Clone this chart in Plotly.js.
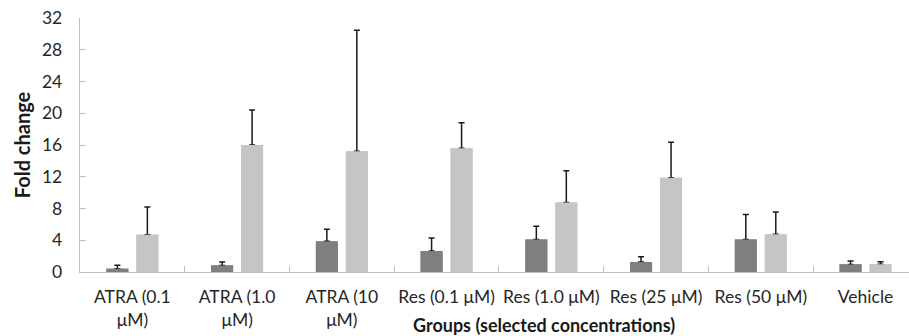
<!DOCTYPE html>
<html>
<head>
<meta charset="utf-8">
<script src="https://cdn.plot.ly/plotly-3.0.1.min.js"></script>
<style>html,body{margin:0;padding:0;background:#fff;}#chart{width:909px;height:336px;}</style>
</head>
<body>
<div id="chart"></div>
<script>
const categories = ["ATRA (0.1<br>μM)", "ATRA (1.0<br>μM)", "ATRA (10<br>μM)", "Res (0.1 μM)", "Res (1.0 μM)", "Res (25 μM)", "Res (50 μM)", "Vehicle"];
const darkValues = [0.42, 0.83, 3.86, 2.64, 4.1, 1.25, 4.1, 0.96];
const darkErrors = [0.42, 0.42, 1.52, 1.64, 1.66, 0.68, 3.13, 0.42];
const lightValues = [4.7, 16.0, 15.2, 15.6, 8.75, 11.86, 4.75, 0.98];
const lightErrors = [3.5, 4.4, 15.25, 3.2, 4.0, 4.5, 2.81, 0.32];
const yTicks = [0, 4, 8, 12, 16, 20, 24, 28, 32];

const darkColor = '#7f7f7f';
const lightColor = '#c4c6c5';
const zeros = categories.map(() => 0);

function errBar(arr) {
  return {type: 'data', array: arr, arrayminus: zeros, symmetric: false, visible: true,
          color: '#1a1a1a', thickness: 1.5, width: 3};
}

const traces = [
  {type: 'bar', x: categories, y: darkValues, offsetgroup: 'a', marker: {color: darkColor}, error_y: errBar(darkErrors), hoverinfo: 'skip'},
  {type: 'bar', x: categories, y: lightValues, offsetgroup: 'b', marker: {color: lightColor}, error_y: errBar(lightErrors), hoverinfo: 'skip'},
  {type: 'bar', x: categories, y: darkValues, offsetgroup: 'a', marker: {color: darkColor}, hoverinfo: 'skip'},
  {type: 'bar', x: categories, y: lightValues, offsetgroup: 'b', marker: {color: lightColor}, hoverinfo: 'skip'}
];

const fontFam = 'Lato, "Open Sans", sans-serif';

const layout = {
  width: 909, height: 336,
  margin: {l: 79.5, r: 0, t: 18.3, b: 64.4, pad: 0},
  paper_bgcolor: '#ffffff', plot_bgcolor: '#ffffff',
  showlegend: false,
  barmode: 'group', bargap: 0.4275, bargroupgap: 0.267,
  font: {family: fontFam, size: 17, color: '#262626'},
  xaxis: {
    type: 'category', range: [-0.5, 7.415],
    showline: true, linecolor: '#bfbfbf', linewidth: 1.3,
    ticks: 'inside', tickson: 'boundaries', ticklen: 6, tickcolor: '#bfbfbf', tickwidth: 1,
    showgrid: false, zeroline: false, tickangle: 0,
    tickfont: {family: fontFam, size: 17.5, color: '#262626'},
    ticklabelstandoff: 9,
    fixedrange: true
  },
  yaxis: {
    range: [0, 32], tickvals: yTicks, ticktext: yTicks.map(String),
    showline: true, linecolor: '#bfbfbf', linewidth: 1.3,
    ticks: 'inside', ticklen: 6, tickcolor: '#bfbfbf', tickwidth: 1,
    showgrid: false, zeroline: false,
    tickfont: {family: fontFam, size: 17.5, color: '#262626'},
    ticklabelstandoff: 13,
    title: {text: '<b>Fold change</b>', font: {family: fontFam, size: 20, color: '#1a1a1a'}, standoff: 6},
    fixedrange: true
  },
  annotations: [{
    text: '<b>Groups (selected concentrations)</b>', xref: 'paper', yref: 'paper',
    x: 0.56, y: -0.21, xanchor: 'center', yanchor: 'middle', showarrow: false,
    font: {family: fontFam, size: 18, color: '#1a1a1a'}
  }]
};

Plotly.newPlot('chart', traces, layout, {staticPlot: true, displayModeBar: false});
</script>
</body>
</html>
